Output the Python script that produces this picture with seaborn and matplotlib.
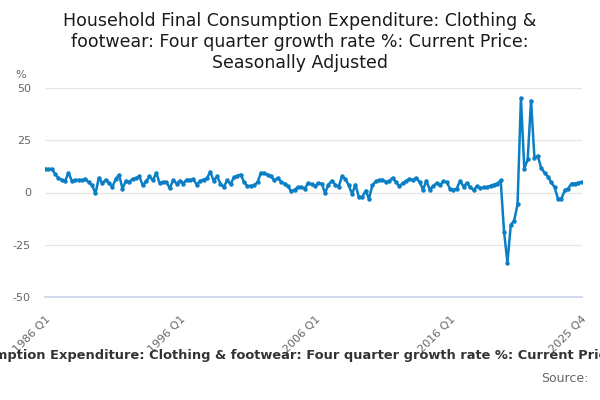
import numpy as np
import pandas as pd
import matplotlib
matplotlib.use("Agg")
import matplotlib.pyplot as plt
import seaborn as sns

# Four quarter growth rate %, 1986 Q1 .. 2025 Q4
growth = [
    11.4, 11.2, 11.3, 9.0, 7.0, 6.0, 5.5, 9.4, 5.6, 6.0,
    6.0, 5.8, 6.5, 4.8, 3.4, -0.4, 7.0, 4.5, 6.0, 4.5,
    2.6, 6.5, 8.5, 1.8, 5.6, 5.0, 6.5, 6.8, 7.7, 3.4,
    5.3, 7.7, 5.8, 9.4, 4.5, 5.0, 5.0, 2.0, 5.8, 4.3,
    5.6, 4.3, 6.2, 6.0, 6.3, 3.7, 5.5, 6.2, 6.7, 10.0,
    5.6, 7.7, 4.3, 2.6, 5.8, 4.0, 7.2, 8.0, 8.6, 5.0,
    3.0, 3.2, 3.4, 5.0, 9.4, 9.2, 8.5, 7.7, 5.8, 7.0,
    5.0, 4.3, 3.0, 0.5, 1.4, 2.6, 2.6, 1.9, 4.5, 4.0,
    3.0, 4.5, 4.3, -0.3, 3.8, 5.6, 3.8, 2.6, 7.7, 6.5,
    3.4, -0.7, 3.8, -2.2, -2.2, 0.8, -3.0, 3.4, 5.3, 5.8,
    6.2, 5.0, 5.5, 7.0, 5.0, 3.0, 4.5, 5.5, 6.5, 6.0,
    7.0, 5.0, 1.4, 5.6, 1.4, 3.0, 4.5, 3.4, 5.3, 5.0,
    1.8, 1.3, 1.9, 5.6, 2.8, 4.5, 2.5, 1.2, 3.0, 2.2,
    2.4, 2.6, 3.2, 3.8, 4.3, 5.8, -18.7, -33.6, -15.5, -13.5,
    -5.6, 45.2, 11.4, 15.8, 44.0, 16.7, 17.5, 11.6, 9.5, 7.6,
    4.8, 2.4, -3.2, -2.9, 1.1, 1.9, 4.3, 4.3, 4.6, 5.1,
]
quarters = [f"{1986 + i // 4} Q{i % 4 + 1}" for i in range(len(growth))]
tick_labels = ["1986 Q1", "1996 Q1", "2006 Q1", "2016 Q1", "2025 Q4"]
y_ticks = [-50, -25, 0, 25, 50]

df = pd.DataFrame({"pos": range(len(growth)), "quarter": quarters, "value": growth})

sns.set_theme(style="white")
plt.rcParams["font.family"] = ["DejaVu Sans"]

fig = plt.figure(figsize=(6, 4), dpi=100)
ax = fig.add_axes([0.0747, 0.2575, 0.8948, 0.5225])

sns.lineplot(data=df, x="pos", y="value", ax=ax, color="#0a7fc6", linewidth=1.8,
             marker="o", markersize=3.2, markeredgewidth=0)

ax.set_xlim(0, len(growth) - 1)
ax.set_ylim(-50, 50)
ax.set_yticks(y_ticks)
ax.set_yticklabels([str(v) for v in y_ticks], color="#666666", fontsize=8)
ax.grid(axis="y", color="#e6e6e6", linewidth=1)
ax.set_axisbelow(True)

minor = list(range(0, len(growth), 10)) + [len(growth) - 1]
ax.set_xticks(minor)
ax.set_xticklabels([q if q in tick_labels else "" for q in df["quarter"].iloc[minor]],
                   rotation=45, ha="right", rotation_mode="anchor",
                   color="#666666", fontsize=8)
ax.tick_params(axis="x", length=8, color="#ccd6eb", width=1, pad=4)
ax.tick_params(axis="y", length=0, pad=10)

for side in ["top", "right", "left"]:
    ax.spines[side].set_visible(False)
ax.spines["bottom"].set_color("#ccd6eb")
ax.set_xlabel("")
ax.set_ylabel("")

fig.text(0.5, 0.97, "Household Final Consumption Expenditure: Clothing &\n"
         "footwear: Four quarter growth rate %: Current Price:\nSeasonally Adjusted",
         ha="center", va="top", fontsize=12.5, color="#1a1a1a", linespacing=1.2)
fig.text(0.025, 0.805, "%", fontsize=8, color="#666666")
fig.text(0.5, 0.11, "Household Final Consumption Expenditure: Clothing & footwear: "
         "Four quarter growth rate %: Current Price: Seasonally Adjusted",
         ha="center", va="center", fontsize=9.4, fontweight="bold", color="#333333")
fig.text(0.98, 0.055, "Source:", ha="right", va="center", fontsize=9, color="#666666")

fig.savefig("out.png", dpi=100)
